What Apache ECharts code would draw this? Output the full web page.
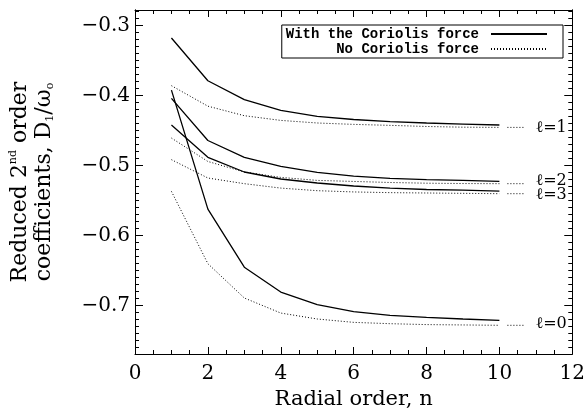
<!DOCTYPE html>
<html><head><meta charset="utf-8">
<script src="https://cdn.jsdelivr.net/npm/echarts@6/dist/echarts.min.js"></script>
<style>html,body{margin:0;padding:0;background:#fff}#c{width:588px;height:419px}</style>
</head><body><div id="c"></div>
<script>
// ---- data ----
const radialOrder = [1, 2, 3, 4, 5, 6, 7, 8, 9, 10];
const l0Coriolis   = [-0.392, -0.562, -0.645, -0.6805, -0.6986, -0.7086, -0.7138, -0.7167, -0.719, -0.721];
const l0NoCoriolis = [-0.5367, -0.640, -0.689, -0.7105, -0.719, -0.7238, -0.7257, -0.727, -0.7275, -0.728];
const l1Coriolis   = [-0.3176, -0.3786, -0.4057, -0.421, -0.4296, -0.434, -0.437, -0.439, -0.4405, -0.4419];
const l1NoCoriolis = [-0.3857, -0.415, -0.4286, -0.4353, -0.439, -0.441, -0.4424, -0.444, -0.445, -0.4453];
const l2Coriolis   = [-0.4039, -0.464, -0.488, -0.501, -0.5096, -0.515, -0.518, -0.520, -0.521, -0.5224];
const l2NoCoriolis = [-0.4605, -0.494, -0.509, -0.5167, -0.521, -0.5225, -0.524, -0.525, -0.5255, -0.5257];
const l3Coriolis   = [-0.4419, -0.488, -0.509, -0.519, -0.5247, -0.529, -0.532, -0.534, -0.535, -0.5362];
const l3NoCoriolis = [-0.4914, -0.5176, -0.5257, -0.532, -0.5357, -0.5375, -0.5385, -0.539, -0.5395, -0.540];
const degreeLabels = ['\u2113=0', '\u2113=1', '\u2113=2', '\u2113=3'];
const keySegmentX = [10.22, 10.69];
const yMajorTicks = [-0.7, -0.6, -0.5, -0.4, -0.3];
const legendNames = ['With the Coriolis force', 'No Coriolis force'];
const xAxisTitle = 'Radial order, n';

// ---- build ----
const Y_MIN = -0.769, Y_MAX = -0.2776;
const yMinorTicks = [];
for (let k = -76; k <= -28; k++) yMinorTicks.push(k / 100);
const MONO = '"Liberation Mono", monospace';
const SERIF = '"DejaVu Serif", serif';
const black = '#000';

const coriolisSets = [l0Coriolis, l1Coriolis, l2Coriolis, l3Coriolis];
const noCoriolisSets = [l0NoCoriolis, l1NoCoriolis, l2NoCoriolis, l3NoCoriolis];
const pair = arr => radialOrder.map((n, i) => [n, arr[i]]);
const series = [];
coriolisSets.forEach(arr => series.push({
  name: legendNames[0], type: 'line', data: pair(arr), symbol: 'none', silent: true,
  lineStyle: { color: black, width: 1.3, type: 'solid' }, itemStyle: { color: black }
}));
noCoriolisSets.forEach(arr => series.push({
  name: legendNames[1], type: 'line', data: pair(arr), symbol: 'none', silent: true,
  lineStyle: { color: black, width: 1, type: [1, 2] }, itemStyle: { color: black }
}));
const labelOffsets = [[0, -1], [0, 0], [0, -3], [0, 1]];
noCoriolisSets.forEach((arr, i) => {
  const last = arr[arr.length - 1];
  series.push({
    name: 'key' + i, type: 'line', symbol: 'none', silent: true,
    data: keySegmentX.map(x => [x, last]),
    lineStyle: { color: black, width: 1, type: [1, 2] },
    endLabel: { show: true, formatter: degreeLabels[i], distance: 11, offset: labelOffsets[i],
      fontFamily: SERIF, fontSize: 16, color: black }
  });
});

const tickLine = { color: black, width: 1 };
const yBase = {
  type: 'value', min: Y_MIN, max: Y_MAX, splitLine: { show: false },
  axisLine: { show: true, onZero: false, lineStyle: { color: black, width: 1 } }
};
const xBase = {
  type: 'value', min: 0, max: 12, interval: 2, splitLine: { show: false },
  axisLine: { show: true, onZero: false, lineStyle: { color: black, width: 1 } },
  axisTick: { show: true, inside: true, length: 7, lineStyle: tickLine },
  minorTick: { show: true, splitNumber: 4, length: 4, lineStyle: tickLine }
};

const option = {
  animation: false,
  backgroundColor: '#fff',
  grid: { left: 134, right: 15, top: 10, bottom: 65 },
  legend: {
    data: legendNames, orient: 'vertical', right: 25, top: 25,
    align: 'right', itemWidth: 56, itemHeight: 12, itemGap: 1,
    padding: [2, 15, 2, 4], borderColor: black, borderWidth: 1,
    selectedMode: false,
    itemStyle: { color: 'rgba(0,0,0,0)', borderWidth: 0, opacity: 0 },
    formatter: name => '{t|' + name + '}',
    textStyle: {
      color: black,
      rich: { t: { fontFamily: MONO, fontWeight: 'bold', fontSize: 14, color: black,
                   width: 200, align: 'right', padding: [0, 7, 0, 0] } }
    }
  },
  xAxis: [
    Object.assign({}, xBase, {
      position: 'bottom', name: xAxisTitle, nameLocation: 'middle', nameGap: 35,
      nameTextStyle: { fontFamily: SERIF, fontSize: 21, color: black },
      axisLabel: { fontFamily: SERIF, fontSize: 20, color: black, margin: 10 }
    }),
    Object.assign({}, xBase, { position: 'top', axisLabel: { show: false } })
  ],
  yAxis: [
    Object.assign({}, yBase, {
      position: 'left',
      axisTick: { show: true, inside: true, length: 8, customValues: yMajorTicks, lineStyle: tickLine },
      axisLabel: { customValues: yMajorTicks, fontFamily: SERIF, fontSize: 20, color: black, margin: 5,
        formatter: v => (v < 0 ? '\u2212' : '') + Math.abs(v).toFixed(1) },
      name: '{a|Reduced 2}{sup|nd}{a| order}\n{a|coefficients, D}{sub|1}{a|/\u03c9}{sub|o}',
      nameLocation: 'middle', nameRotate: 90, nameGap: 79,
      nameTextStyle: {
        color: black, lineHeight: 24,
        rich: {
          a: { fontFamily: SERIF, fontSize: 22, color: black, lineHeight: 24 },
          sup: { fontFamily: SERIF, fontSize: 11, color: black, verticalAlign: 'top', lineHeight: 24, padding: [0, 0, 8, 0] },
          sub: { fontFamily: SERIF, fontSize: 11, color: black, verticalAlign: 'bottom', lineHeight: 24 }
        }
      }
    }),
    Object.assign({}, yBase, {
      position: 'left',
      axisTick: { show: true, inside: true, length: 4, customValues: yMinorTicks, lineStyle: tickLine },
      axisLabel: { show: false }
    }),
    Object.assign({}, yBase, {
      position: 'right',
      axisTick: { show: true, inside: true, length: 8, customValues: yMajorTicks, lineStyle: tickLine },
      axisLabel: { show: false }
    }),
    Object.assign({}, yBase, {
      position: 'right',
      axisTick: { show: true, inside: true, length: 4, customValues: yMinorTicks, lineStyle: tickLine },
      axisLabel: { show: false }
    })
  ],
  series: series
};
const chart = echarts.init(document.getElementById('c'), null, { renderer: 'canvas' });
chart.setOption(option);
</script></body></html>
